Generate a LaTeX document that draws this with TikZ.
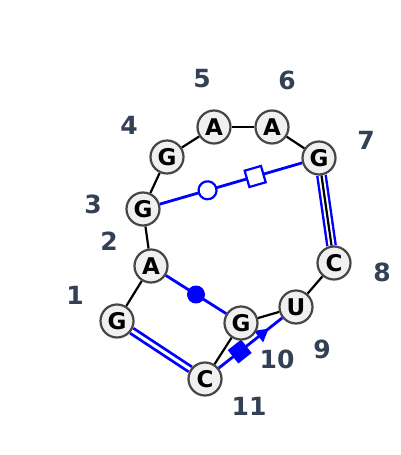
\documentclass[tikz,border=0pt]{standalone}
\usepackage{fontspec}
\setmainfont{DejaVu Sans}
\usetikzlibrary{shapes.geometric,backgrounds}
\definecolor{bpblue}{RGB}{0,0,255}
\definecolor{labcol}{RGB}{52,64,84}
\definecolor{ntfill}{RGB}{240,240,240}
\definecolor{ntdraw}{RGB}{70,70,70}
\begin{document}
\begin{tikzpicture}[x=1pt,y=-1pt,
  nt/.style={circle, draw=ntdraw, line width=2.2pt, fill=ntfill, minimum size=33pt, inner sep=0pt, font=\fontsize{23}{23}\selectfont\bfseries},
  lbl/.style={text=labcol, font=\fontsize{25}{25}\selectfont\bfseries},
  bb/.style={draw=black, line width=2.2pt},
  bp/.style={draw=bpblue, line width=2.8pt},
  bpdouble/.style={draw=bpblue, line width=2.8pt, double=white, double distance=3pt},
  opencirc/.style={circle, draw=bpblue, fill=white, line width=2.2pt, minimum size=18pt, inner sep=0pt, sloped, allow upside down},
  opensq/.style={rectangle, draw=bpblue, fill=white, line width=2.2pt, minimum size=17pt, inner sep=0pt, sloped, allow upside down},
  fillcirc/.style={circle, fill=bpblue, minimum size=18pt, inner sep=0pt},
  fillsq/.style={rectangle, fill=bpblue, minimum size=17pt, inner sep=0pt, sloped, allow upside down},
  filltri/.style={regular polygon, regular polygon sides=3, shape border rotate=-90, fill=bpblue, minimum size=17pt, inner sep=0pt, sloped, allow upside down}]
\useasboundingbox (0,0) rectangle (400,455);

\node[nt] (n1) at (117,321) {G};
\node[nt] (n2) at (151,266) {A};
\node[nt] (n3) at (143,209) {G};
\node[nt] (n4) at (167,157) {G};
\node[nt] (n5) at (214,127) {A};
\node[nt] (n6) at (272,127) {A};
\node[nt] (n7) at (319,158) {G};
\node[nt] (n8) at (334,263) {C};
\node[nt] (n9) at (296,307) {U};
\node[nt] (n10) at (241,323) {G};
\node[nt] (n11) at (205,379) {C};

\begin{scope}[on background layer]
  % base pairs
  \draw[bpdouble] (n1) -- (n11);
  \draw[draw=bpblue, line width=2.4pt, double=white, double distance=6pt] (n7) -- (n8);
  \draw[bp] (n3) -- node[pos=0.335, opencirc] {} node[pos=0.67, opensq] {} (n7);
  \draw[bp] (n2) -- node[pos=0.5, fillcirc] {} (n10);
  \draw[bp] (n11) -- node[pos=0.33, fillsq] {} node[pos=0.68, filltri] {} (n9);
  % backbone
  \draw[bb] (n1) -- (n2);
  \draw[bb] (n2) -- (n3);
  \draw[bb] (n3) -- (n4);
  \draw[bb] (n4) -- (n5);
  \draw[bb] (n5) -- (n6);
  \draw[bb] (n6) -- (n7);
  \draw[bb] (n7) -- (n8);
  \draw[bb] (n8) -- (n9);
  \draw[bb] (n9) -- (n10);
  \draw[bb] (n10) -- (n11);
\end{scope}

\node[lbl] (l1) at (75,295) {1};
\node[lbl] (l2) at (109,241) {2};
\node[lbl] (l3) at (93,204) {3};
\node[lbl] (l4) at (129,125) {4};
\node[lbl] (l5) at (202,79) {5};
\node[lbl] (l6) at (287,80) {6};
\node[lbl] (l7) at (366,140) {7};
\node[lbl] (l8) at (382,272) {8};
\node[lbl] (l9) at (322,349) {9};
\node[lbl] (l10) at (277,359) {10};
\node[lbl] (l11) at (249,406) {11};
\end{tikzpicture}
\end{document}
